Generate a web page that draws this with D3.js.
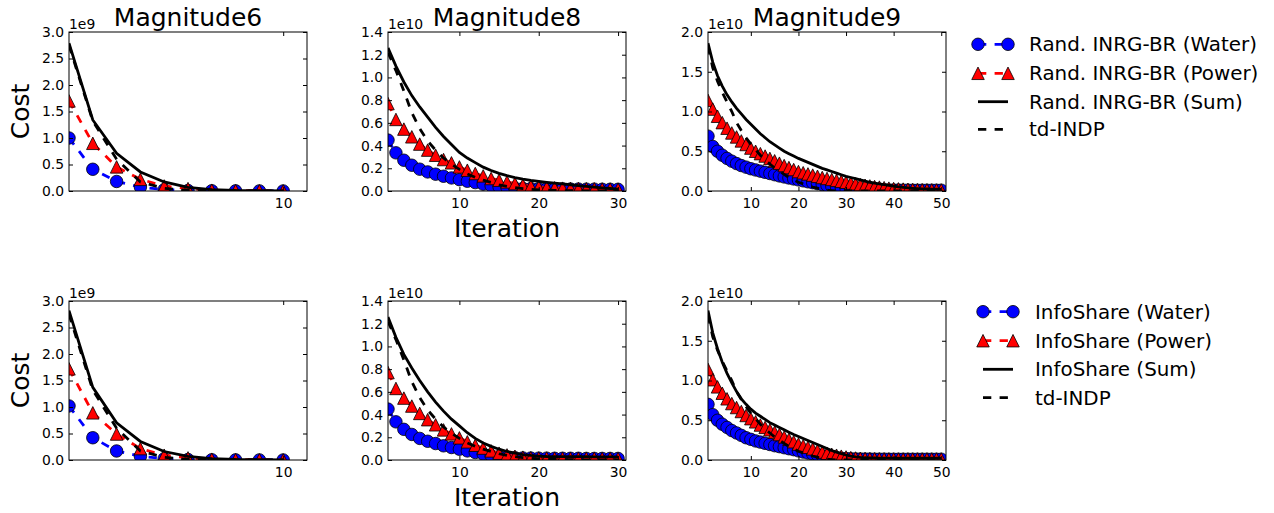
<!DOCTYPE html>
<html>
<head>
<meta charset="utf-8">
<script src="https://cdnjs.cloudflare.com/ajax/libs/d3/7.8.5/d3.min.js"></script>
<style>
  body { margin: 0; background: #fff; }
  svg { display: block; font-family: "DejaVu Sans", sans-serif; }
</style>
</head>
<body>
<div id="root"></div>
<script>
// values are in the units shown on each axis (x1e9 for Magnitude6, x1e10 for 8 and 9)
// iteration i is at index i-1

// Magnitude6 - Rand. INRG-BR
const randWater6 = [1.00, 0.41, 0.18, 0.075, 0.025, 0.01, 0.005, 0.003, 0.002, 0.001];
const randPower6 = [1.70, 0.90, 0.455, 0.22, 0.095, 0.045, 0.015, 0.006, 0.003, 0.002];
const randSum6 = [2.79, 1.34, 0.71, 0.36, 0.17, 0.07, 0.025, 0.01, 0.005, 0.003];
// Magnitude6 - InfoShare
const infoWater6 = [1.02, 0.42, 0.17, 0.07, 0.025, 0.01, 0.005, 0.003, 0.002, 0.001];
const infoPower6 = [1.72, 0.89, 0.49, 0.215, 0.09, 0.04, 0.015, 0.006, 0.003, 0.002];
const infoSum6 = [2.82, 1.37, 0.70, 0.35, 0.16, 0.07, 0.025, 0.01, 0.005, 0.003];
const tdIndp6 = [2.75, 1.32, 0.60, 0.17, 0.05, 0.01, 0, 0, 0, 0];

// Magnitude8 - Rand. INRG-BR
const randWater8 = [0.448, 0.336, 0.271, 0.227, 0.192, 0.168, 0.148, 0.13, 0.115, 0.10,
  0.086, 0.074, 0.06, 0.045, 0.036, 0.03, 0.026, 0.023, 0.021, 0.02,
  0.019, 0.018, 0.018, 0.017, 0.017, 0.016, 0.016, 0.015, 0.015, 0.015];
const randPower8 = [0.77, 0.63, 0.545, 0.477, 0.413, 0.36, 0.315, 0.277, 0.248, 0.212,
  0.183, 0.154, 0.133, 0.11, 0.095, 0.08, 0.065, 0.052, 0.043, 0.036,
  0.031, 0.028, 0.025, 0.023, 0.021, 0.02, 0.019, 0.018, 0.017, 0.016];
const randSum8 = [1.26, 1.10, 0.96, 0.84, 0.74, 0.65, 0.56, 0.48, 0.41, 0.34,
  0.29, 0.25, 0.21, 0.18, 0.155, 0.135, 0.118, 0.104, 0.093, 0.084,
  0.076, 0.069, 0.062, 0.055, 0.048, 0.041, 0.034, 0.028, 0.022, 0.017];
// Magnitude8 - InfoShare
const infoWater8 = [0.448, 0.336, 0.27, 0.225, 0.19, 0.165, 0.145, 0.125, 0.11, 0.095,
  0.08, 0.066, 0.052, 0.04, 0.03, 0.024, 0.02, 0.018, 0.017, 0.016,
  0.016, 0.015, 0.015, 0.015, 0.015, 0.014, 0.014, 0.014, 0.014, 0.014];
const infoPower8 = [0.77, 0.63, 0.545, 0.475, 0.41, 0.355, 0.31, 0.265, 0.23, 0.195,
  0.16, 0.13, 0.105, 0.08, 0.06, 0.045, 0.033, 0.025, 0.02, 0.018,
  0.017, 0.016, 0.016, 0.015, 0.015, 0.015, 0.015, 0.014, 0.014, 0.014];
const infoSum8 = [1.26, 1.08, 0.93, 0.81, 0.70, 0.60, 0.51, 0.43, 0.36, 0.30,
  0.24, 0.19, 0.15, 0.12, 0.095, 0.075, 0.06, 0.048, 0.04, 0.034,
  0.031, 0.03, 0.03, 0.029, 0.029, 0.029, 0.028, 0.028, 0.028, 0.028];
const tdIndp8 = [1.22, 1.06, 0.88, 0.69, 0.55, 0.44, 0.36, 0.29, 0.235, 0.19,
  0.15, 0.12, 0.095, 0.075, 0.055, 0.04, 0.03, 0.02, 0.015, 0.01,
  0.008, 0.006, 0.004, 0.003, 0.002, 0.001, 0, 0, 0, 0];

// Magnitude9 - Rand. INRG-BR
const randWater9 = [0.69, 0.56, 0.50, 0.45, 0.41, 0.375, 0.345, 0.32, 0.30, 0.28,
  0.265, 0.25, 0.235, 0.22, 0.205, 0.19, 0.177, 0.164, 0.152, 0.14,
  0.128, 0.116, 0.104, 0.092, 0.08, 0.07, 0.06, 0.05, 0.042, 0.035,
  0.03, 0.026, 0.023, 0.02, 0.018, 0.016, 0.015, 0.014, 0.013, 0.012,
  0.012, 0.011, 0.011, 0.01, 0.01, 0.01, 0.01, 0.01, 0.01, 0.01];
const randPower9 = [1.14, 1.03, 0.94, 0.86, 0.79, 0.73, 0.68, 0.63, 0.585, 0.54,
  0.50, 0.47, 0.44, 0.41, 0.38, 0.35, 0.32, 0.295, 0.27, 0.245,
  0.23, 0.215, 0.20, 0.185, 0.17, 0.158, 0.146, 0.134, 0.122, 0.11,
  0.10, 0.09, 0.08, 0.072, 0.064, 0.056, 0.049, 0.042, 0.036, 0.031,
  0.027, 0.024, 0.021, 0.018, 0.016, 0.015, 0.014, 0.013, 0.012, 0.012];
const randSum9 = [1.86, 1.62, 1.45, 1.32, 1.21, 1.12, 1.04, 0.97, 0.90, 0.84,
  0.78, 0.72, 0.67, 0.62, 0.58, 0.54, 0.50, 0.47, 0.44, 0.41,
  0.385, 0.36, 0.335, 0.31, 0.285, 0.265, 0.245, 0.225, 0.205, 0.185,
  0.17, 0.155, 0.14, 0.125, 0.11, 0.10, 0.09, 0.08, 0.07, 0.06,
  0.052, 0.045, 0.039, 0.034, 0.03, 0.027, 0.025, 0.023, 0.022, 0.021];
// Magnitude9 - InfoShare
const infoWater9 = [0.70, 0.57, 0.50, 0.45, 0.41, 0.37, 0.34, 0.31, 0.28, 0.26,
  0.24, 0.225, 0.21, 0.195, 0.18, 0.168, 0.155, 0.142, 0.13, 0.115,
  0.10, 0.088, 0.076, 0.064, 0.052, 0.042, 0.034, 0.028, 0.022, 0.018,
  0.016, 0.014, 0.013, 0.012, 0.012, 0.011, 0.011, 0.011, 0.01, 0.01,
  0.01, 0.01, 0.01, 0.01, 0.01, 0.01, 0.01, 0.01, 0.01, 0.01];
const infoPower9 = [1.14, 1.01, 0.92, 0.84, 0.77, 0.71, 0.66, 0.61, 0.56, 0.52,
  0.48, 0.44, 0.41, 0.38, 0.35, 0.32, 0.29, 0.26, 0.23, 0.20,
  0.18, 0.16, 0.14, 0.12, 0.10, 0.085, 0.072, 0.06, 0.048, 0.038,
  0.03, 0.025, 0.021, 0.018, 0.016, 0.015, 0.014, 0.013, 0.013, 0.012,
  0.012, 0.012, 0.012, 0.012, 0.012, 0.012, 0.012, 0.012, 0.012, 0.012];
const infoSum9 = [1.88, 1.60, 1.40, 1.23, 1.09, 0.97, 0.86, 0.77, 0.70, 0.64,
  0.59, 0.55, 0.51, 0.47, 0.44, 0.41, 0.38, 0.35, 0.32, 0.295,
  0.27, 0.245, 0.22, 0.195, 0.17, 0.145, 0.12, 0.10, 0.08, 0.063,
  0.048, 0.038, 0.032, 0.028, 0.026, 0.025, 0.024, 0.023, 0.023, 0.022,
  0.022, 0.022, 0.022, 0.022, 0.022, 0.022, 0.022, 0.022, 0.022, 0.022];
const tdIndp9 = [1.82, 1.55, 1.38, 1.24, 1.12, 1.0, 0.86, 0.76, 0.67, 0.59,
  0.52, 0.45, 0.39, 0.34, 0.29, 0.25, 0.21, 0.17, 0.14, 0.11,
  0.09, 0.07, 0.05, 0.035, 0.02, 0.01, 0.005, 0, 0, 0,
  0, 0, 0, 0, 0, 0, 0, 0, 0, 0,
  0, 0, 0, 0, 0, 0, 0, 0, 0, 0];

// axes ticks and labels
const titles = ["Magnitude6", "Magnitude8", "Magnitude9"];
const offsets = ["1e9", "1e10", "1e10"];
const xDomains = [[1, 11], [1, 31], [1, 51]];
const yDomains = [[0, 3], [0, 1.4], [0, 2]];
const xTicks = [[10], [10, 20, 30], [10, 20, 30, 40, 50]];
const yTicks = [
  [0, 0.5, 1.0, 1.5, 2.0, 2.5, 3.0],
  [0, 0.2, 0.4, 0.6, 0.8, 1.0, 1.2, 1.4],
  [0, 0.5, 1.0, 1.5, 2.0]
];
const legendLabels = [
  ["Rand. INRG-BR (Water)", "Rand. INRG-BR (Power)", "Rand. INRG-BR (Sum)", "td-INDP"],
  ["InfoShare (Water)", "InfoShare (Power)", "InfoShare (Sum)", "td-INDP"]
];
const rowData = [
  [[randWater6, randPower6, randSum6, tdIndp6], [randWater8, randPower8, randSum8, tdIndp8], [randWater9, randPower9, randSum9, tdIndp9]],
  [[infoWater6, infoPower6, infoSum6, tdIndp6], [infoWater8, infoPower8, infoSum8, tdIndp8], [infoWater9, infoPower9, infoSum9, tdIndp9]]
];

// layout
const colX = [69, 388, 708];
const rowY = [32, 301];
const pw = 238, ph = 159;
const lw = 2.8, dash = "8.3,8.3", ms = 12.5;

// style of the 4 series (water, power, sum, td-INDP)
const styles = [
  { color: "#0000ff", dash: true, marker: "circle" },
  { color: "#ff0000", dash: true, marker: "triangle" },
  { color: "#000000", dash: false, marker: null },
  { color: "#000000", dash: true, marker: null }
];

function markerPath(type) {
  if (type === "circle") return d3.symbol(d3.symbolCircle, Math.PI * (ms / 2) * (ms / 2))();
  const h = ms / 2;
  return `M0,${-h}L${h},${h}L${-h},${h}Z`;
}

const svg = d3.select("#root").append("svg")
  .attr("width", 1274)
  .attr("height", 513);

let clipId = 0;
rowData.forEach((row, r) => {
  row.forEach((seriesList, c) => {
    const g = svg.append("g").attr("transform", `translate(${colX[c]},${rowY[r]})`);
    const x = d3.scaleLinear().domain(xDomains[c]).range([0, pw]);
    const y = d3.scaleLinear().domain(yDomains[c]).range([ph, 0]);

    const id = "clip" + (clipId++);
    g.append("clipPath").attr("id", id)
      .append("rect").attr("width", pw).attr("height", ph);
    const plot = g.append("g").attr("clip-path", `url(#${id})`);

    const line = d3.line()
      .x((d, i) => x(i + 1))
      .y(d => y(d));

    seriesList.forEach((values, s) => {
      const st = styles[s];
      plot.append("path")
        .datum(values)
        .attr("fill", "none")
        .attr("stroke", st.color)
        .attr("stroke-width", lw)
        .attr("stroke-dasharray", st.dash ? dash : null)
        .attr("d", line);
      if (st.marker) {
        plot.append("g").selectAll("path")
          .data(values)
          .join("path")
          .attr("transform", (d, i) => `translate(${x(i + 1)},${y(d)})`)
          .attr("d", markerPath(st.marker))
          .attr("fill", st.color)
          .attr("stroke", "#000")
          .attr("stroke-width", 0.8);
      }
    });

    // axes with ticks pointing inwards on all four sides
    const fmt = d3.format(".1f");
    const left = g.append("g").call(d3.axisLeft(y).tickValues(yTicks[c]).tickFormat(fmt).tickSizeInner(-4).tickSizeOuter(0).tickPadding(5));
    const right = g.append("g").attr("transform", `translate(${pw},0)`)
      .call(d3.axisRight(y).tickValues(yTicks[c]).tickFormat("").tickSizeInner(-4).tickSizeOuter(0));
    const bottom = g.append("g").attr("transform", `translate(0,${ph})`)
      .call(d3.axisBottom(x).tickValues(xTicks[c]).tickFormat(d3.format("d")).tickSizeInner(-4).tickSizeOuter(0).tickPadding(7));
    const top = g.append("g")
      .call(d3.axisTop(x).tickValues(xTicks[c]).tickFormat("").tickSizeInner(-4).tickSizeOuter(0));
    [left, right, bottom, top].forEach(a => {
      a.select(".domain").remove();
      a.selectAll("line").attr("stroke", "#000").attr("stroke-width", 1);
      a.selectAll("text").attr("fill", "#000").attr("font-size", "13.9px").attr("font-family", "DejaVu Sans, sans-serif");
    });

    g.append("rect")
      .attr("width", pw).attr("height", ph)
      .attr("fill", "none").attr("stroke", "#000").attr("stroke-width", 1);

    // offset text
    g.append("text")
      .attr("x", 0).attr("y", -3)
      .attr("font-size", "13.9px")
      .text(offsets[c]);

    if (r === 0) {
      g.append("text")
        .attr("x", pw / 2).attr("y", -6)
        .attr("text-anchor", "middle")
        .attr("font-size", "25px")
        .text(titles[c]);
    }
    if (c === 0) {
      g.append("text")
        .attr("transform", `translate(${28.5 - colX[0]},${ph / 2}) rotate(-90)`)
        .attr("text-anchor", "middle")
        .attr("font-size", "25px")
        .text("Cost");
    }
    if (c === 1) {
      g.append("text")
        .attr("x", pw / 2).attr("y", ph + 46)
        .attr("text-anchor", "middle")
        .attr("font-size", "25px")
        .text("Iteration");
    }
  });
});

// legends
const legendPos = [
  { x0: 978, x1: 1008, tx: 1029, y: [44.3, 73.3, 101.7, 129.3] },
  { x0: 983, x1: 1013, tx: 1035, y: [311.7, 340.7, 369.3, 397.7] }
];
legendLabels.forEach((labels, r) => {
  const lp = legendPos[r];
  const lg = svg.append("g").attr("class", "legend");
  labels.forEach((label, s) => {
    const st = styles[s];
    const yy = lp.y[s];
    lg.append("line")
      .attr("x1", lp.x0).attr("x2", lp.x1)
      .attr("y1", yy).attr("y2", yy)
      .attr("stroke", st.color)
      .attr("stroke-width", lw)
      .attr("stroke-dasharray", st.dash ? dash : null);
    if (st.marker) {
      [lp.x0, lp.x1].forEach(mx => {
        lg.append("path")
          .attr("transform", `translate(${mx},${yy})`)
          .attr("d", markerPath(st.marker))
          .attr("fill", st.color)
          .attr("stroke", "#000")
          .attr("stroke-width", 0.8);
      });
    }
    lg.append("text")
      .attr("x", lp.tx).attr("y", yy)
      .attr("dy", "0.36em")
      .attr("font-size", "19.9px")
      .text(label);
  });
});
</script>
</body>
</html>
